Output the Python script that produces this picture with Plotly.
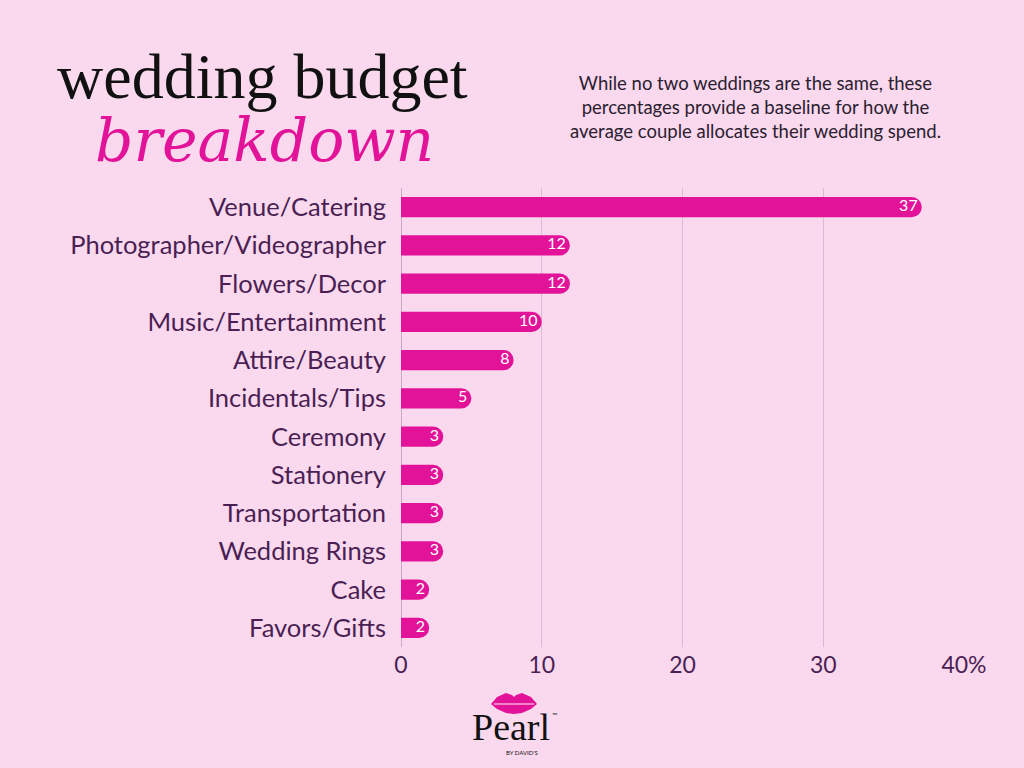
import plotly.graph_objects as go

categories = ["Venue/Catering", "Photographer/Videographer", "Flowers/Decor",
              "Music/Entertainment", "Attire/Beauty", "Incidentals/Tips",
              "Ceremony", "Stationery", "Transportation", "Wedding Rings",
              "Cake", "Favors/Gifts"]
values = [37, 12, 12, 10, 8, 5, 3, 3, 3, 3, 2, 2]
tick_vals = [0, 10, 20, 30, 40]
tick_text = ["0", "10", "20", "30", "40%"]

BG = "#fad9ee"
PINK = "#e31399"
PURPLE = "#4a1f54"

fig = go.Figure()
fig.add_trace(go.Bar(
    x=values, y=categories, orientation="h",
    marker=dict(color=PINK, cornerradius=10, line=dict(width=0)),
    hoverinfo="skip",
))
# value labels at bar ends
fig.add_trace(go.Scatter(
    x=values, y=categories, mode="text",
    text=[str(v) + " " for v in values], textposition="middle left",
    textfont=dict(color="white", size=16, family="Lato"),
    cliponaxis=False, hoverinfo="skip",
))

fig.update_layout(
    width=1024, height=768,
    paper_bgcolor=BG, plot_bgcolor=BG,
    margin=dict(l=401, r=60, t=188, b=121),
    bargap=0.47,
    showlegend=False,
    xaxis=dict(range=[0, 40], tickvals=tick_vals, ticktext=tick_text,
               showgrid=True, gridcolor="#dcbad6", gridwidth=1,
               zeroline=True, zerolinecolor="#c9a9c6", zerolinewidth=1,
               tickfont=dict(size=23, color=PURPLE, family="Lato"),
               ticks="", ticklabelstandoff=2, fixedrange=True),
    yaxis=dict(categoryorder="array", categoryarray=categories,
               range=[len(categories) - 0.5, -0.5], autorange=False,
               showgrid=False,
               tickfont=dict(size=25.5, color=PURPLE, family="Lato"),
               ticks="", ticklabelstandoff=14, fixedrange=True),
)

pw = 1024 - 401 - 60
ph = 768 - 188 - 121

def p2x(px):
    return (px - 401) / pw

def p2y(py):
    return 1 - (py - 188) / ph

def note(text, px, py, size, color, family, xanchor="center", align="center"):
    fig.add_annotation(text=text, x=p2x(px), y=p2y(py), xref="paper", yref="paper",
                       showarrow=False, xanchor=xanchor, yanchor="middle",
                       align=align, font=dict(family=family, size=size, color=color))

note("wedding budget", 55, 76, 64, "#111111", "Liberation Serif", xanchor="left")
note("<i>breakdown</i>", 93, 140, 60, PINK, "DejaVu Serif", xanchor="left")
note("While no two weddings are the same, these<br>percentages provide a baseline for how the<br>average couple allocates their wedding spend.",
     755, 107, 18.5, "#2a2030", "Lato")
note("Pearl", 511, 727, 38, "#111111", "Liberation Serif")
note("™", 554, 715, 7, "#111111", "Lato")
note("BY DAVID'S", 522, 752, 6, "#111111", "Lato")

# lips logo (decoration)
lx, ly = 514, 703
pts = [(-23, 1), (-17, -6), (-8, -10), (-2, -8), (0, -6), (2, -8), (8, -10),
       (17, -6), (23, 1), (17, 6), (8, 10), (0, 11), (-8, 10), (-17, 6)]
path = "M {} {}".format(p2x(lx + pts[0][0]), p2y(ly + pts[0][1]))
for dx, dy in pts[1:]:
    path += " L {} {}".format(p2x(lx + dx), p2y(ly + dy))
path += " Z"
fig.add_shape(type="path", path=path, xref="paper", yref="paper",
              fillcolor=PINK, line=dict(width=0))
fig.add_shape(type="line", xref="paper", yref="paper",
              x0=p2x(lx - 20), x1=p2x(lx + 20), y0=p2y(ly + 1), y1=p2y(ly + 1),
              line=dict(color="#f7a8d8", width=1.5))

fig.write_html("out.html")
